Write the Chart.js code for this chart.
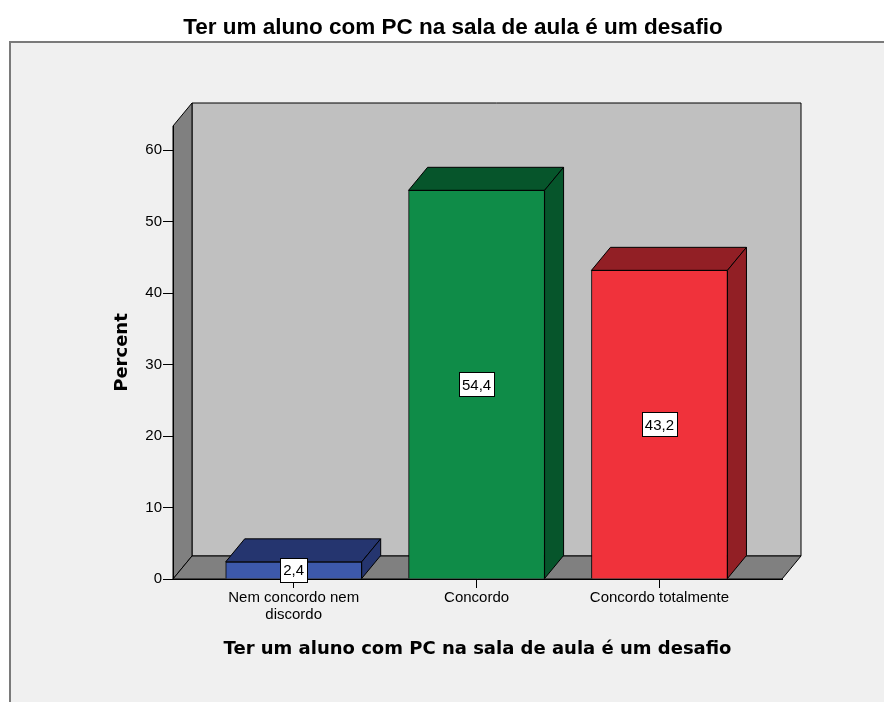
<!DOCTYPE html>
<html>
<head>
<meta charset="utf-8">
<title>Ter um aluno com PC na sala de aula é um desafio</title>
<script src="https://cdn.jsdelivr.net/npm/chart.js@4.4.1/dist/chart.umd.min.js"></script>
<style>
  body { margin: 0; background: #fff; }
  #wrap { width: 884px; height: 702px; position: relative; }
</style>
</head>
<body>
<div id="wrap"><canvas id="barChart"></canvas></div>
<script>
// data
const categories = [['Nem concordo nem', 'discordo'], 'Concordo', 'Concordo totalmente'];
const percentValues = [2.4, 54.4, 43.2];
const yTicks = [0, 10, 20, 30, 40, 50, 60];
const chartTitle = 'Ter um aluno com PC na sala de aula é um desafio';
const xTitle = 'Ter um aluno com PC na sala de aula é um desafio';
const yTitle = 'Percent';

const frontColors = ['#3d59ab', '#0f8c48', '#f0323b'];
const darkColors = ['#25356f', '#06552b', '#921f25'];
const DX = 19, DY = -23;
const SANS = '"Liberation Sans", Arial, sans-serif';
const WIDE = '"DejaVu Sans", Verdana, sans-serif';

function poly(ctx, pts, fill) {
    ctx.beginPath()
    ctx.moveTo(pts[0][0], pts[0][1])
    for (let i = 1; i < pts.length; i++) ctx.lineTo(pts[i][0], pts[i][1])
    ctx.closePath()
    ctx.fillStyle = fill
    ctx.fill()
    ctx.stroke()
}

const depthPlugin = {
    id: 'depth3d',
    beforeDraw: (chart) => {
        const { ctx, width, height, chartArea: a } = chart
        ctx.save()
        ctx.fillStyle = '#ffffff'
        ctx.fillRect(0, 0, width, height)
        ctx.fillStyle = '#f0f0f0'
        ctx.fillRect(9, 42, width - 9, height - 42)
        ctx.strokeStyle = '#7a7a7a'
        ctx.lineWidth = 2
        ctx.beginPath()
        ctx.moveTo(10, height)
        ctx.lineTo(10, 42)
        ctx.lineTo(width, 42)
        ctx.stroke()

        ctx.strokeStyle = '#000'
        ctx.lineWidth = 1
        ctx.lineJoin = 'miter'
        // back wall, left wall, floor
        poly(ctx, [[a.left + DX, a.top + DY], [a.right + DX, a.top + DY], [a.right + DX, a.bottom + DY], [a.left + DX, a.bottom + DY]], '#c0c0c0')
        poly(ctx, [[a.left, a.top], [a.left + DX, a.top + DY], [a.left + DX, a.bottom + DY], [a.left, a.bottom]], '#808080')
        poly(ctx, [[a.left, a.bottom], [a.left + DX, a.bottom + DY], [a.right + DX, a.bottom + DY], [a.right, a.bottom]], '#808080')
        ctx.restore()
    },
    afterDatasetsDraw: (chart) => {
        const { ctx } = chart
        const meta = chart.getDatasetMeta(0)
        ctx.save()
        ctx.strokeStyle = '#000'
        ctx.lineWidth = 1
        meta.data.forEach((bar, i) => {
            const { x, y, base, width } = bar.getProps(['x', 'y', 'base', 'width'], true)
            const l = x - width / 2, r = x + width / 2
            poly(ctx, [[l, y], [l + DX, y + DY], [r + DX, y + DY], [r, y]], darkColors[i])
            poly(ctx, [[r, y], [r + DX, y + DY], [r + DX, base + DY], [r, base]], darkColors[i])
        })
        // value labels
        ctx.font = '15px ' + SANS
        ctx.textAlign = 'center'
        ctx.textBaseline = 'middle'
        meta.data.forEach((bar, i) => {
            const { x, y, base } = bar.getProps(['x', 'y', 'base'], true)
            const txt = percentValues[i].toFixed(1).replace('.', ',')
            const w = ctx.measureText(txt).width + 6
            const h = 24
            const cy = (y + base) / 2
            const bx = Math.round(x - w / 2) + 0.5, by = Math.round(cy - h / 2) + 0.5
            ctx.fillStyle = '#fff'
            ctx.fillRect(bx, by, Math.round(w), h)
            ctx.strokeRect(bx, by, Math.round(w), h)
            ctx.fillStyle = '#000'
            ctx.fillText(txt, x, cy + 1)
        })
        ctx.restore()
    }
}

const barChart = new Chart(document.getElementById('barChart'), {
    type: 'bar',
    data: {
        datasets: [{
            label: 'Percent',
            data: percentValues.map((v, i) => ({ x: i, y: v })),
            backgroundColor: frontColors,
            borderColor: '#000',
            borderWidth: 1,
            barThickness: 136
        }]
    },
    options: {
        responsive: true,
        maintainAspectRatio: false,
        animation: false,
        events: [],
        layout: { padding: { left: 124, right: 102, top: 0, bottom: 33 } },
        plugins: {
            legend: { display: false },
            tooltip: { enabled: false },
            title: {
                display: true,
                text: chartTitle,
                color: '#000',
                font: { family: SANS, size: 22.5, weight: 'bold' },
                padding: { top: 14, bottom: 85 }
            }
        },
        scales: {
            x: {
                type: 'linear',
                offset: false,
                min: -0.66,
                max: 2.67,
                afterBuildTicks: (scale) => { scale.ticks = categories.map((c, i) => ({ value: i })) },
                afterFit: (scale) => { scale.height = 90 },
                ticks: {
                    color: '#000',
                    font: { family: SANS, size: 15, lineHeight: 1.1 },
                    padding: 2,
                    maxRotation: 0,
                    autoSkip: false,
                    callback: (value) => categories[value]
                },
                grid: { offset: false, drawOnChartArea: false, drawTicks: true, tickLength: 9, color: '#000' },
                border: { display: true, color: '#000' },
                title: {
                    display: true,
                    text: xTitle,
                    color: '#000',
                    font: { family: WIDE, size: 18, weight: 'bold' },
                    padding: { top: 0, bottom: 9 }
                }
            },
            y: {
                min: 0,
                max: 63.4,
                afterBuildTicks: (scale) => { scale.ticks = yTicks.map(v => ({ value: v })) },
                afterFit: (scale) => { scale.width = 49 },
                ticks: {
                    color: '#000',
                    font: { family: SANS, size: 15 },
                    padding: 1
                },
                grid: { drawOnChartArea: false, drawTicks: true, tickLength: 10, color: '#000' },
                border: { display: true, color: '#000' },
                title: {
                    display: true,
                    text: yTitle,
                    color: '#000',
                    font: { family: WIDE, size: 18, weight: 'bold' },
                    padding: { top: -12, bottom: 0 }
                }
            }
        }
    },
    plugins: [depthPlugin]
});
</script>
</body>
</html>
